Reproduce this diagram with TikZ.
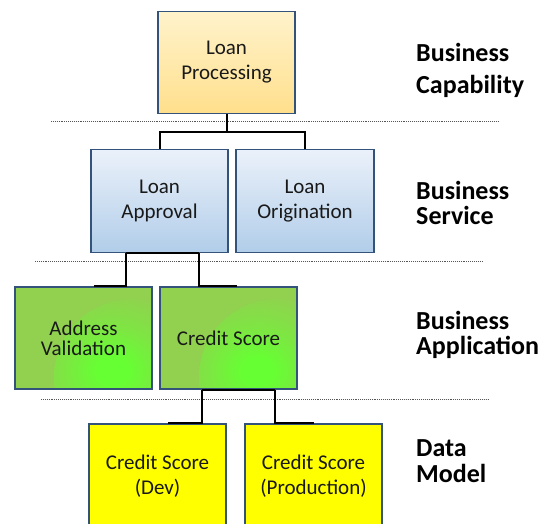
\documentclass[tikz,border=0pt]{standalone}
\usepackage{fontspec}
\setmainfont{Carlito}
\definecolor{boxborder}{HTML}{34537A}
\definecolor{lpTop}{HTML}{FFF3CC}
\definecolor{lpBot}{HTML}{FFDF8C}
\definecolor{blTop}{HTML}{EBF1FA}
\definecolor{blBot}{HTML}{B1CDE9}
\definecolor{appgreen}{HTML}{92D050}
\definecolor{brightgreen}{HTML}{66FF33}
\definecolor{dmyellow}{HTML}{FFFF00}
\definecolor{sepgray}{HTML}{555555}
\pgfdeclareradialshading{greenspot}{\pgfpoint{0bp}{0bp}}{%
  color(0bp)=(brightgreen); color(4bp)=(brightgreen);
  color(13bp)=(brightgreen!45!appgreen); color(24bp)=(appgreen); color(50bp)=(appgreen)}
\begin{document}
\begin{tikzpicture}[x=1pt,y=-1pt,
  box/.style={draw=boxborder, line width=1.1pt, minimum width=137pt, minimum height=102pt,
    inner sep=0pt, align=center, font=\fontsize{21}{25}\selectfont, text=black!90},
  capbox/.style={box, top color=lpTop, bottom color=lpBot},
  svcbox/.style={box, top color=blTop, bottom color=blBot, minimum height=103pt},
  appbox/.style={box, fill=appgreen,
    path picture={\shade[shading=greenspot]
      ([xshift=-20pt,yshift=12pt]path picture bounding box.south east) circle (78pt);}},
  databox/.style={box, fill=dmyellow, minimum height=104pt},
  conn/.style={draw=black, line width=2pt},
  sep/.style={draw=sepgray, line width=0.9pt, densely dotted},
  layer/.style={anchor=base west, align=left, inner sep=0pt, font=\bfseries\fontsize{26}{25}\selectfont}
]
\useasboundingbox (0,0) rectangle (552,523);
\clip (0,0) rectangle (552,523);

% separators
\draw[sep] (51,121) -- (498,121);
\draw[sep] (35,261) -- (482,261);
\draw[sep] (41,399) -- (488,399);

% boxes
\node[capbox] (lp) at (226.5,62.5) {Loan\\Processing};
\node[svcbox] (la) at (159.5,201) {Loan\\Approval};
\node[svcbox, minimum width=138pt] (lo) at (305,201) {Loan\\Origination};
\node[appbox, font=\fontsize{21}{20}\selectfont] (av) at (83.5,338) {Address\\Validation};
\node[appbox] (cs) at (228.5,338) {Credit Score};
\node[databox] (csd) at (157.5,476) {Credit Score\\(Dev)};
\node[databox] (csp) at (313.5,476) {Credit Score\\(Production)};

% connectors
\coordinate (bus1) at (0,132);
\draw[conn] (lp.south) -- (lp.south |- bus1) -| (la.north);
\draw[conn] (lp.south |- bus1) -| (lo.north);

\draw[conn] ([xshift=-33.5pt]la.south) -- ([xshift=39.5pt]la.south);
\draw[conn] ([xshift=-33.5pt]la.south) |- ([xshift=10pt]av.north);
\draw[conn] ([xshift=39.5pt]la.south) |- ([xshift=8.5pt]cs.north);

\draw[conn] ([xshift=-26.5pt]cs.south) -- ([xshift=46.5pt]cs.south);
\draw[conn] ([xshift=-26.5pt]cs.south) |- ([xshift=10.5pt]csd.north);
\draw[conn] ([xshift=46.5pt]cs.south) |- (csp.north);

% layer labels (anchored at the baseline of the last line)
\node[layer, font=\bfseries\fontsize{26}{32}\selectfont] (l1) at (416,93) {Business\\Capability};
\node[layer] (l2) at (416,224) {Business\\Service};
\node[layer] (l3) at (416,354) {Business\\Application};
\node[layer, font=\bfseries\fontsize{26}{26}\selectfont] (l4) at (416,482) {Data\\Model};
\end{tikzpicture}
\end{document}
